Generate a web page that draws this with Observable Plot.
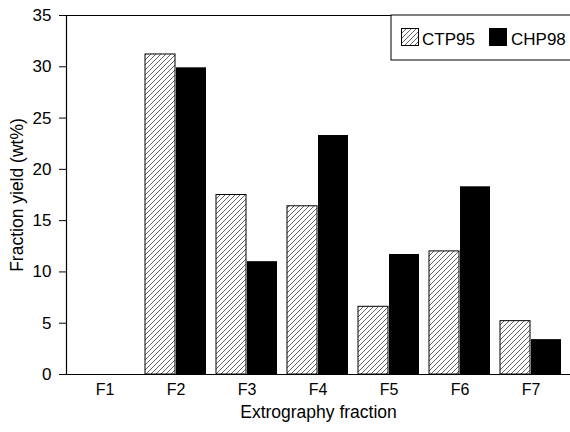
<!DOCTYPE html>
<html>
<head>
<meta charset="utf-8">
<script src="https://cdn.jsdelivr.net/npm/d3@7"></script>
<script src="https://cdn.jsdelivr.net/npm/@observablehq/plot@0.6"></script>
<style>
  html, body { margin: 0; padding: 0; background: #fff; }
  #chart { width: 570px; height: 432px; }
  #chart svg text { font-size: 16px; }
  #chart svg g[aria-label="y-axis tick label"] text { font-size: 17px; }
  #chart svg g[aria-label="x-axis tick label"] text { font-size: 16px; }
  #chart svg g[aria-label="y-axis label"] text,
  #chart svg g[aria-label="x-axis label"] text { font-size: 17.5px; }
</style>
</head>
<body>
<div id="chart"></div>
<script>
const fractions = ["F1", "F2", "F3", "F4", "F5", "F6", "F7"];
const ctp95 = [0, 31.2, 17.5, 16.4, 6.6, 12.0, 5.2];
const chp98 = [0, 29.9, 11.0, 23.3, 11.7, 18.3, 3.4];
const yTicks = [0, 5, 10, 15, 20, 25, 30, 35];
const seriesNames = ["CTP95", "CHP98"];

const data = fractions.map((f, i) => ({fraction: f, ctp: ctp95[i], chp: chp98[i]}));
const font = "'Liberation Sans', Arial, Helvetica, sans-serif";

const chart = Plot.plot({
  width: 570,
  height: 432,
  marginLeft: 66,
  marginRight: 0,
  marginTop: 15,
  marginBottom: 58,
  style: {fontFamily: font, fontSize: "16px", color: "#000", background: "#fff", overflow: "visible"},
  x: {domain: fractions, padding: 0.135, paddingOuter: 0.08},
  y: {domain: [0, 35]},
  marks: [
    Plot.barY(data.filter(d => d.ctp > 0), {x: "fraction", y: "ctp", insetRight: 31, fill: "url(#hatch)", stroke: "#000", strokeWidth: 1}),
    Plot.barY(data.filter(d => d.chp > 0), {x: "fraction", y: "chp", insetLeft: 31, fill: "#000"}),
    Plot.ruleY([0], {stroke: "#000", strokeWidth: 1.2}),
    Plot.ruleY([35], {stroke: "#000", strokeWidth: 1}),
    Plot.frame({anchor: "left", stroke: "#000", strokeWidth: 1.2}),
    Plot.axisY({ticks: yTicks, tickSize: 7, tickPadding: 8, label: "Fraction yield (wt%)", labelAnchor: "center", labelArrow: "none", labelOffset: 56}),
    Plot.axisX({tickSize: 0, tickPadding: 9, label: "Extrography fraction", labelAnchor: "center", labelArrow: "none", labelOffset: 43})
  ]
});

const svg = d3.select(chart.tagName.toLowerCase() === "svg" ? chart : chart.querySelector("svg"));
svg.selectAll("[font-size]").attr("font-size", null);
const defs = svg.insert("defs", ":first-child");
const pat = defs.append("pattern")
  .attr("id", "hatch")
  .attr("patternUnits", "userSpaceOnUse")
  .attr("width", 5)
  .attr("height", 5);
pat.append("rect").attr("width", 5).attr("height", 5).attr("fill", "#fff");
pat.append("path")
  .attr("d", "M-1,1 l2,-2 M0,5 l5,-5 M4,6 l2,-2")
  .attr("stroke", "#222")
  .attr("stroke-width", 0.7);

// legend (inside plot area, top right)
const lg = svg.append("g").attr("font-family", font).attr("fill", "#000").attr("text-anchor", "start");
lg.append("rect").attr("x", 391).attr("y", 15).attr("width", 182).attr("height", 45)
  .attr("fill", "#fff").attr("stroke", "#000").attr("stroke-width", 1);
lg.append("rect").attr("x", 401.5).attr("y", 28.5).attr("width", 17).attr("height", 17)
  .attr("fill", "url(#hatch)").attr("stroke", "#000");
lg.append("text").attr("x", 422).attr("y", 45).style("font-size", "17px").text(seriesNames[0]);
lg.append("rect").attr("x", 489).attr("y", 28).attr("width", 18).attr("height", 18).attr("fill", "#000");
lg.append("text").attr("x", 511).attr("y", 45).style("font-size", "17px").text(seriesNames[1]);

document.getElementById("chart").appendChild(chart);
</script>
</body>
</html>
